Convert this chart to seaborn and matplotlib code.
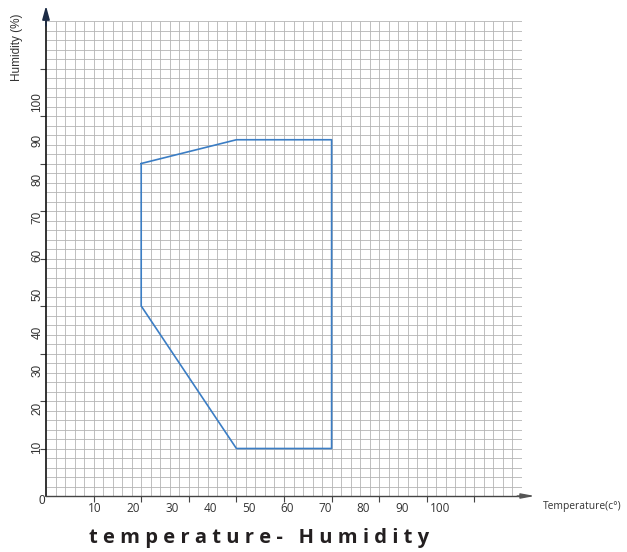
import numpy as np
import pandas as pd
import matplotlib
matplotlib.use("Agg")
import matplotlib.pyplot as plt
import seaborn as sns

# -----------------------------------
# Data (in grid squares)
# -----------------------------------

temp_grid = [10, 10, 20, 30, 30, 20, 10]
humid_grid = [35, 20, 5, 5, 37.5, 37.5, 35]

x_tick_labels = ["10", "20", "30", "40", "50", "60", "70", "80", "90", "100"]
y_tick_labels = ["10", "20", "30", "40", "50", "60", "70", "80", "90", "100"]

envelope = pd.DataFrame({"temp": temp_grid, "humid": humid_grid})

# -----------------------------------
# Figure
# -----------------------------------

sns.set_style("white")
plt.rcParams["font.family"] = ["Liberation Sans", "DejaVu Sans"]

W, H = 627, 552
fig = plt.figure(figsize=(W / 100, H / 100), dpi=100)
ax = fig.add_axes([46 / W, 56 / H, 476 / W, 475 / H])

ax.set_xlim(0, 50)
ax.set_ylim(0, 50)

# graph paper
cells = np.arange(1, 51)
ax.vlines(cells, 0, 50, color="#b4b4b4", lw=0.6, zorder=0)
ax.hlines(cells, 0, 50, color="#b4b4b4", lw=0.6, zorder=0)

sns.lineplot(
    data=envelope,
    x="temp",
    y="humid",
    sort=False,
    estimator=None,
    color="#3b7dc4",
    linewidth=1.2,
    ax=ax
)

ax.set_xlabel("")
ax.set_ylabel("")

# -----------------------------------
# Axes, ticks, arrows
# -----------------------------------

for side in ["top", "right"]:
    ax.spines[side].set_visible(False)
ax.spines["left"].set_color("#111111")
ax.spines["left"].set_linewidth(1.2)
ax.spines["bottom"].set_color("#444444")
ax.spines["bottom"].set_linewidth(1.0)

label_pos = 5.15 + 4.03 * np.arange(10)

ax.set_xticks(label_pos)
ax.set_xticklabels(x_tick_labels, family="Open Sans")
ax.set_yticks(label_pos)
ax.set_yticklabels(y_tick_labels, rotation=90, va="center")

ax.set_xticks(np.arange(5, 50, 5), minor=True)
ax.set_yticks(np.arange(5, 50, 5), minor=True)

ax.tick_params(which="major", length=0, labelsize=8.5, labelcolor="#333333")
ax.tick_params(axis="x", which="major", pad=4)
ax.tick_params(axis="y", which="major", pad=2)
ax.tick_params(
    which="minor",
    bottom=True,
    left=True,
    length=4,
    width=0.8,
    color="#444444",
    direction="out"
)

ax.annotate(
    "",
    xy=(0, 1.032),
    xytext=(0, 0.99),
    xycoords="axes fraction",
    arrowprops=dict(arrowstyle="-|>,head_length=0.8,head_width=0.22",
                    color="#1c2b45", lw=1.2, shrinkA=0, shrinkB=0)
)
ax.annotate(
    "",
    xy=(1.027, 0),
    xytext=(0.99, 0),
    xycoords="axes fraction",
    arrowprops=dict(arrowstyle="-|>,head_length=0.8,head_width=0.15",
                    color="#555555", lw=1.0, shrinkA=0, shrinkB=0)
)

# -----------------------------------
# Texts
# -----------------------------------

fig.text(42 / W, 1 - 501 / H, "0", ha="center", va="center",
         fontsize=8.5, color="#333333")

fig.text(17 / W, 1 - 47 / H, "Humidity (%)", rotation=90,
         ha="center", va="center", fontsize=8.5, color="#333333")

fig.text(543 / W, 1 - 507 / H, "Temperature(c°)", ha="left", va="center",
         fontsize=7.4, color="#333333", family="Open Sans")

fig.text(259.5 / W, 1 - 538 / H, "t e m p e r a t u r e -   H u m i d i t y",
         ha="center", va="center", fontsize=14.5, fontweight="bold",
         family="Open Sans", color="#231f20")

fig.savefig("out.png", dpi=100)
